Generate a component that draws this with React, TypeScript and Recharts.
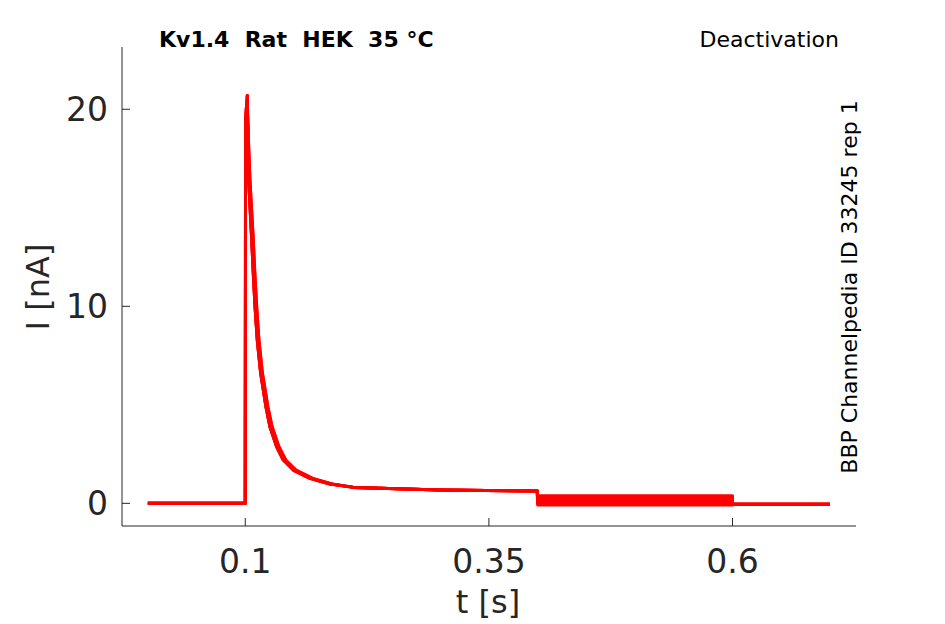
import React from 'react';
import { LineChart, Line, XAxis, YAxis } from 'recharts';

// Activation / inactivation part of the traces (two slightly different sweeps)
const activationTA = [0, 0.1, 0.1003, 0.1021, 0.1035, 0.1066, 0.1082, 0.11, 0.1123, 0.1158, 0.1212, 0.1253, 0.1322, 0.139, 0.1493, 0.1664, 0.1869, 0.2108, 0.2382, 0.3, 0.3996];
const activationA = [0, 0, 19.5, 20.7, 16.4, 13.37, 11.68, 9.98, 8.29, 6.6, 4.9, 3.89, 2.87, 2.2, 1.69, 1.27, 0.98, 0.81, 0.76, 0.68, 0.62];
const activationTB = [0, 0.1, 0.1003, 0.1019, 0.1048, 0.1082, 0.1098, 0.1117, 0.114, 0.1176, 0.1232, 0.1275, 0.1345, 0.1415, 0.152, 0.169, 0.189, 0.212, 0.239, 0.3, 0.3996];
const activationB = [0, 0, 18.9, 20.2, 16.4, 13.37, 11.68, 9.98, 8.29, 6.6, 4.9, 3.89, 2.87, 2.2, 1.69, 1.27, 0.98, 0.81, 0.76, 0.68, 0.62];

// Deactivation step (0.4 s .. 0.6 s): one level per trace
const stepT = [0.4, 0.6];
const tailLevels = [0.38, 0.25, 0.13, 0.02, -0.08];

// Final segment (0.6 s .. 0.7 s)
const finalT = [0.6, 0.7];
const finalLevel = [-0.04, -0.04];

const xTicks = [0.1, 0.35, 0.6];
const yTicks = [0, 10, 20];

const FONT = 'DejaVu Sans, Verdana, sans-serif';
const INK = '#262626';

const traces = tailLevels.map((lvl, k) => {
  const useA = k % 2 === 0;
  const ts = useA ? activationTA : activationTB;
  const vs = useA ? activationA : activationB;
  const pts = ts.map((t, i) => ({ t, i: vs[i] }));
  stepT.forEach((t) => pts.push({ t, i: lvl }));
  finalT.forEach((t, j) => pts.push({ t, i: finalLevel[j] }));
  return pts;
});

const XTick = (props: any) => {
  const { x, y, payload } = props;
  return (
    <g>
      <line x1={x} x2={x} y1={y} y2={y - 8} stroke={INK} strokeWidth={1} />
      <text x={x} y={y + 47} textAnchor="middle" fontSize={33} fill={INK} fontFamily={FONT}>
        {String(payload.value)}
      </text>
    </g>
  );
};

const YTick = (props: any) => {
  const { x, y, payload } = props;
  return (
    <g>
      <line x1={x} x2={x + 8} y1={y} y2={y} stroke={INK} strokeWidth={1} />
      <text x={x - 14} y={y + 12} textAnchor="end" fontSize={33} fill={INK} fontFamily={FONT}>
        {String(payload.value)}
      </text>
    </g>
  );
};

export default function App() {
  return (
    <div style={{ position: 'absolute', left: 0, top: 0, width: 945, height: 624, background: '#fff' }}>
      <LineChart width={945} height={624} margin={{ top: 47, right: 89, bottom: 38, left: 42 }}>
        <XAxis
          type="number"
          dataKey="t"
          domain={[-0.0265, 0.7267]}
          allowDataOverflow
          ticks={xTicks}
          interval={0}
          height={60}
          tickSize={0}
          tickMargin={0}
          tickLine={false}
          tick={<XTick />}
          axisLine={{ stroke: INK, strokeWidth: 1 }}
        />
        <YAxis
          type="number"
          domain={[-1.15, 23.16]}
          allowDataOverflow
          ticks={yTicks}
          interval={0}
          width={80}
          tickSize={0}
          tickMargin={0}
          tickLine={false}
          tick={<YTick />}
          axisLine={{ stroke: INK, strokeWidth: 1 }}
        />
        {traces.map((d, k) => (
          <Line
            key={k}
            data={d}
            dataKey="i"
            type="linear"
            stroke="#ff0000"
            strokeWidth={3}
            strokeLinejoin="round"
            dot={false}
            activeDot={false}
            isAnimationActive={false}
          />
        ))}
      </LineChart>
      <svg width={945} height={624} style={{ position: 'absolute', left: 0, top: 0, pointerEvents: 'none' }}>
        <text x={159} y={47} fontSize={22} fontWeight="bold" fill="#000" fontFamily={FONT} style={{ whiteSpace: 'pre' }}>
          {'Kv1.4  Rat  HEK  35 °C'}
        </text>
        <text x={839} y={47} fontSize={22} textAnchor="end" fill="#000" fontFamily={FONT}>
          Deactivation
        </text>
        <text x={857} y={287} fontSize={22} textAnchor="middle" fill="#000" fontFamily={FONT} transform="rotate(-90 857 287)">
          BBP Channelpedia ID 33245 rep 1
        </text>
        <text x={488} y={613} fontSize={32} textAnchor="middle" fill={INK} fontFamily={FONT} style={{ whiteSpace: 'pre' }}>
          {'t [s]'}
        </text>
        <text x={49} y={287} fontSize={32} textAnchor="middle" fill={INK} fontFamily={FONT} transform="rotate(-90 49 287)" style={{ whiteSpace: 'pre' }}>
          {'I [nA]'}
        </text>
      </svg>
    </div>
  );
}
